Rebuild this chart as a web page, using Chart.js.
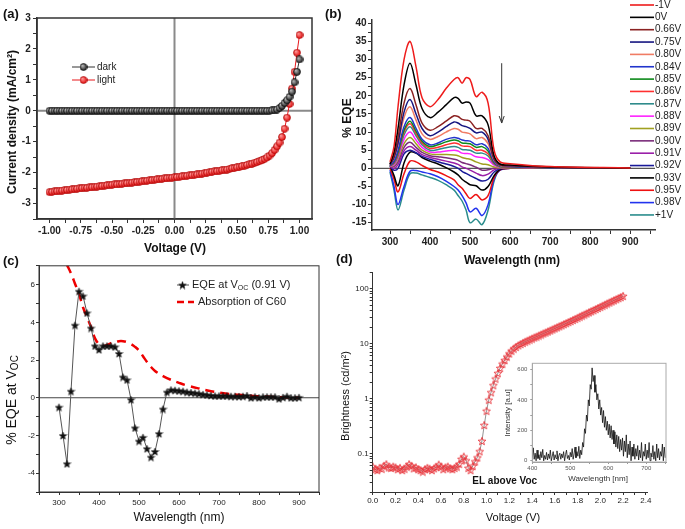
<!DOCTYPE html>
<html>
<head>
<meta charset="utf-8">
<title>J-V, EQE and EL of the C60 device</title>
<script src="https://cdn.jsdelivr.net/npm/chart.js@4.4.1/dist/chart.umd.min.js"></script>
<style>
  html, body { margin: 0; padding: 0; background: #fff; }
  #fig { position: relative; width: 685px; height: 529px; overflow: hidden; }
  #fig canvas { position: absolute; }
  .tag { position: absolute; font: bold 13px "Liberation Sans", Arial, sans-serif; color: #111; }
</style>
</head>
<body>
<div id="fig">
  <canvas id="panelA" width="340" height="260" style="left:0px;top:0px"></canvas>
  <canvas id="panelC" width="340" height="269" style="left:0px;top:260px"></canvas>
  <canvas id="panelD" width="345" height="269" style="left:340px;top:260px"></canvas>
  <canvas id="panelB" width="345" height="272" style="left:340px;top:0px"></canvas>
  <canvas id="insetD" width="175" height="135" style="left:500px;top:355px"></canvas>
  <div class="tag" style="left:3px;top:6px">(a)</div>
  <div class="tag" style="left:325px;top:6px">(b)</div>
  <div class="tag" style="left:3px;top:253px">(c)</div>
  <div class="tag" style="left:336px;top:251px">(d)</div>
</div>
<script>
// ---------- (a) current density vs voltage ----------
var voltageA = [
  -1.00, -0.98, -0.96, -0.94, -0.92, -0.90, -0.88, -0.86, -0.84, -0.82,
  -0.80, -0.78, -0.76, -0.74, -0.72, -0.70, -0.68, -0.66, -0.64, -0.62,
  -0.60, -0.58, -0.56, -0.54, -0.52, -0.50, -0.48, -0.46, -0.44, -0.42,
  -0.40, -0.38, -0.36, -0.34, -0.32, -0.30, -0.28, -0.26, -0.24, -0.22,
  -0.20, -0.18, -0.16, -0.14, -0.12, -0.10, -0.08, -0.06, -0.04, -0.02,
  0.00, 0.02, 0.04, 0.06, 0.08, 0.10, 0.12, 0.14, 0.16, 0.18,
  0.20, 0.22, 0.24, 0.26, 0.28, 0.30, 0.32, 0.34, 0.36, 0.38,
  0.40, 0.42, 0.44, 0.46, 0.48, 0.50, 0.52, 0.54, 0.56, 0.58,
  0.60, 0.62, 0.64, 0.66, 0.68, 0.70, 0.72, 0.74, 0.76, 0.78,
  0.80, 0.82, 0.84, 0.86, 0.88, 0.90, 0.92, 0.94, 0.96, 0.98,
  1.00
];
var darkJ = [
  0, 0, 0, 0, 0, 0, 0, 0, 0, 0,
  0, 0, 0, 0, 0, 0, 0, 0, 0, 0,
  0, 0, 0, 0, 0, 0, 0, 0, 0, 0,
  0, 0, 0, 0, 0, 0, 0, 0, 0, 0,
  0, 0, 0, 0, 0, 0, 0, 0, 0, 0,
  0, 0, 0, 0, 0, 0, 0, 0, 0, 0,
  0, 0, 0, 0, 0, 0, 0, 0, 0, 0,
  0, 0, 0, 0, 0, 0, 0, 0, 0, 0,
  0, 0, 0, 0, 0, 0, 0, 0, 0, 0.01,
  0.02, 0.04, 0.09, 0.16, 0.25, 0.34, 0.45, 0.62, 0.92, 1.26,
  1.66
];
var lightJ = [
  -2.63, -2.62, -2.61, -2.60, -2.59, -2.58, -2.57, -2.56, -2.55, -2.54,
  -2.53, -2.52, -2.51, -2.50, -2.49, -2.49, -2.48, -2.47, -2.46, -2.45,
  -2.44, -2.43, -2.42, -2.41, -2.40, -2.39, -2.38, -2.38, -2.37, -2.36,
  -2.35, -2.34, -2.33, -2.32, -2.31, -2.30, -2.29, -2.28, -2.27, -2.26,
  -2.25, -2.24, -2.23, -2.22, -2.21, -2.20, -2.19, -2.18, -2.17, -2.16,
  -2.15, -2.14, -2.13, -2.12, -2.11, -2.10, -2.09, -2.08, -2.07, -2.06,
  -2.05, -2.03, -2.02, -2.00, -1.99, -1.97, -1.96, -1.95, -1.94, -1.92,
  -1.91, -1.90, -1.88, -1.86, -1.85, -1.83, -1.81, -1.79, -1.77, -1.75,
  -1.73, -1.71, -1.68, -1.66, -1.63, -1.60, -1.56, -1.51, -1.45, -1.37,
  -1.27, -1.15, -1.03, -0.85, -0.58, -0.22, 0.22, 0.72, 1.26, 1.88,
  2.45
];
var aVoltTicks = [-1.00, -0.75, -0.50, -0.25, 0.00, 0.25, 0.50, 0.75, 1.00];
var aCurrentTicks = [-3, -2, -1, 0, 1, 2, 3];

// ---------- (b) EQE under bias ----------
var wavelengthB = [300, 310, 320, 335, 350, 365, 380, 400, 420, 440, 460, 470, 480, 490, 500, 515, 530, 545, 560, 575, 600, 700, 900];
var biasLabels = ['-1V', '0V', '0.66V', '0.75V', '0.80V', '0.84V', '0.85V', '0.86V', '0.87V', '0.88V', '0.89V', '0.90V', '0.91V', '0.92V', '0.93V', '0.95V', '0.98V', '+1V'];
var eqeM1V  = [1.8, 6, 17, 30, 35, 28, 19.5, 17, 19, 22, 24.5, 25, 23.5, 25, 24.5, 19.8, 21, 18, 5, 1.8, 1.3, 0.5, 0.1];
var eqe0V   = [1.2, 4.5, 11, 23, 29, 23, 16.5, 14, 15.5, 17.5, 19.5, 19.3, 18, 18.3, 18, 14.5, 14.5, 12, 3.5, 1.2, 0.9, 0.4, 0.1];
var eqe066V = [1.2, 3.5, 8.5, 18, 22, 17.5, 12.5, 10.5, 11.5, 13, 14.5, 14.3, 13.5, 13.3, 13, 11, 11, 9, 2.8, 1, 0.8, 0.3, 0.1];
var eqe075V = [1, 3, 7, 15.5, 19, 15, 11, 9, 10, 11.5, 12.8, 12.5, 11.8, 11.5, 11, 9.8, 10, 8, 2.5, 0.9, 0.7, 0.3, 0.1];
var eqe080V = [1, 2.8, 6.5, 14, 17, 13.3, 9.5, 8, 8.8, 10, 11, 10.8, 10, 9.8, 9.5, 8.2, 8.5, 6.8, 2.2, 0.8, 0.7, 0.3, 0.1];
var eqe084V = [0.8, 2, 5, 11.5, 14, 11, 8, 6.5, 7, 8, 8.5, 8.3, 7.8, 7.6, 7.5, 6.5, 6.8, 5.5, 1.8, 0.7, 0.5, 0.2, 0.1];
var eqe085V = [0.8, 1.8, 4.5, 10.5, 13, 10.2, 7.5, 6, 6.5, 7.3, 7.8, 7.6, 7, 6.9, 6.8, 5.8, 6, 4.8, 1.6, 0.6, 0.5, 0.2, 0.1];
var eqe086V = [0.7, 1.5, 4, 10, 12.3, 9.6, 7, 5.5, 5.8, 6.5, 7, 6.8, 6.2, 6.1, 6, 5, 5, 4, 1.4, 0.5, 0.4, 0.2, 0.1];
var eqe087V = [0.7, 1.3, 3.5, 9.2, 11.5, 9, 6.5, 5, 5.2, 5.7, 6, 5.8, 5.2, 5.1, 5, 4.2, 4.2, 3.4, 1.2, 0.4, 0.4, 0.2, 0.1];
var eqe088V = [0.6, 1, 3, 8, 10, 7.8, 5.8, 4.5, 4.5, 4.8, 5, 4.8, 4.2, 4.1, 4, 3.2, 3, 2.4, 0.9, 0.3, 0.3, 0.2, 0.1];
var eqe089V = [0.6, 0.8, 2.5, 6.8, 8.5, 6.8, 5, 4, 3.8, 3.8, 3.7, 3.5, 3, 2.7, 2.5, 1.8, 1.2, 1, 0.4, 0.2, 0.2, 0.1, 0.1];
var eqe090V = [0.5, 0.5, 1.8, 5.8, 7.2, 5.8, 4.4, 3.5, 3.2, 2.9, 2.5, 2.2, 1.6, 1.3, 1, 0.3, -0.5, -0.4, 0, 0.1, 0.1, 0.1, 0];
var eqe091V = [0.5, 0, 1, 4.8, 6, 5, 3.8, 3, 2.5, 2, 1.5, 1.1, 0.4, 0, -0.5, -1.3, -2, -1.6, -0.4, 0, 0.1, 0.1, 0];
var eqe092V = [0.5, -0.5, 0, 4, 5, 4.3, 3.3, 2.5, 1.8, 1.2, 0.5, 0, -0.8, -1.4, -2, -2.8, -3.5, -3, -1, -0.1, 0, 0, 0];
var eqe093V = [0.8, -2, -4.8, 1.5, 4.5, 4.2, 3, 2, 1.2, 0.2, -1, -1.8, -3, -3.8, -4.5, -4.8, -6, -5, -2, -0.3, 0, 0, 0];
var eqe095V = [0, -3, -6.5, -1.5, 2, 1.8, 0.8, -0.3, -1, -2, -3.2, -4.5, -5.5, -7, -8.3, -7.2, -8.7, -7.5, -2.5, -0.4, 0, 0, 0];
var eqe098V = [-0.5, -5, -10, -5, -0.8, -0.6, -1, -1.5, -2.3, -3.5, -5, -6, -7.5, -9.5, -12, -11, -13, -10, -3, -0.5, 0, 0, 0];
var eqeP1V  = [-1, -6, -11.5, -6, -1.5, -1.3, -1.8, -2.5, -3.3, -4.5, -6, -7.5, -9, -11.5, -15, -14, -15.5, -11.5, -3.5, -0.3, 0, 0, 0];
var bWaveTicks = [300, 400, 500, 600, 700, 800, 900];
var bEqeTicks = [-15, -10, -5, 0, 5, 10, 15, 20, 25, 30, 35, 40];

// ---------- (c) EQE at Voc and C60 absorption ----------
var wavelengthC = [
  300, 310, 320, 330, 340, 350, 360, 370, 380, 390,
  400, 410, 420, 430, 440, 450, 460, 470, 480, 490,
  500, 510, 520, 530, 540, 550, 560, 570, 580, 590,
  600, 610, 620, 630, 640, 650, 660, 670, 680, 690,
  700, 710, 720, 730, 740, 750, 760, 770, 780, 790,
  800, 810, 820, 830, 840, 850, 860, 870, 880, 890,
  900
];
var eqeAtVoc = [
  -0.5, -2.0, -3.5, 0.35, 3.85, 5.65, 5.4, 4.5, 3.7, 2.75,
  2.55, 2.75, 2.75, 2.75, 2.7, 2.35, 1.1, 0.95, -0.1, -1.6,
  -2.3, -2.1, -2.7, -3.15, -2.85, -1.9, -0.6, 0.3, 0.42, 0.4,
  0.37, 0.35, 0.3, 0.28, 0.25, 0.22, 0.18, 0.15, 0.12, 0.1,
  0.1, 0.1, 0.1, 0.08, 0.08, 0.07, 0.08, 0.12, 0.0, 0.05,
  0.0, 0.05, 0.05, 0.05, 0.05, -0.05, 0.02, 0.08, 0.0, 0.0,
  0.02
];
var absWavelength = [320, 330, 340, 350, 360, 370, 380, 390, 400, 410, 420, 430, 440, 450, 460, 470, 480, 490, 500, 510, 520, 530, 540, 550, 560, 580, 600, 620, 650, 680, 700, 720, 750, 780, 800, 850, 900];
var absC60 = [7.05, 6.6, 6.05, 5.5, 4.8, 4.28, 3.75, 3.15, 2.85, 2.75, 2.8, 2.9, 2.95, 3.0, 3.0, 2.95, 2.85, 2.7, 2.5, 2.2, 1.9, 1.63, 1.42, 1.28, 1.15, 0.95, 0.79, 0.65, 0.49, 0.35, 0.27, 0.21, 0.16, 0.1, 0.08, 0.03, 0.0];
var cWaveTicks = [300, 400, 500, 600, 700, 800, 900];
var cEqeTicks = [-4, -2, 0, 2, 4, 6];

// ---------- (d) brightness vs voltage ----------
var voltageD = [
  0.00, 0.02, 0.04, 0.06, 0.08, 0.10, 0.12, 0.14, 0.16, 0.18,
  0.20, 0.22, 0.24, 0.26, 0.28, 0.30, 0.32, 0.34, 0.36, 0.38,
  0.40, 0.42, 0.44, 0.46, 0.48, 0.50, 0.52, 0.54, 0.56, 0.58,
  0.60, 0.62, 0.64, 0.66, 0.68, 0.70, 0.72, 0.74, 0.76, 0.78,
  0.80, 0.82, 0.84, 0.86, 0.88, 0.90, 0.92, 0.94, 0.96, 0.98,
  1.00, 1.02, 1.04, 1.06, 1.08, 1.10, 1.12, 1.14, 1.16, 1.18,
  1.20, 1.22, 1.24, 1.26, 1.28, 1.30, 1.32, 1.34, 1.36, 1.38,
  1.40, 1.42, 1.44, 1.46, 1.48, 1.50, 1.52, 1.54, 1.56, 1.58,
  1.60, 1.62, 1.64, 1.66, 1.68, 1.70, 1.72, 1.74, 1.76, 1.78,
  1.80, 1.82, 1.84, 1.86, 1.88, 1.90, 1.92, 1.94, 1.96, 1.98,
  2.00, 2.02, 2.04, 2.06, 2.08, 2.10, 2.12, 2.14, 2.16, 2.18,
  2.20
];
var brightness = [
  0.058, 0.052, 0.050, 0.055, 0.053, 0.060, 0.064, 0.056, 0.055, 0.058,
  0.056, 0.052, 0.055, 0.050, 0.053, 0.058, 0.064, 0.060, 0.054, 0.056,
  0.052, 0.050, 0.047, 0.052, 0.055, 0.053, 0.050, 0.054, 0.057, 0.063,
  0.058, 0.052, 0.056, 0.058, 0.054, 0.052, 0.055, 0.058, 0.065, 0.080,
  0.088, 0.075, 0.055, 0.050, 0.060, 0.072, 0.085, 0.110, 0.170, 0.330,
  0.60, 0.95, 1.30, 1.75, 2.30, 2.90, 3.60, 4.30, 5.00, 5.80,
  6.6, 7.4, 8.1, 8.7, 9.3, 9.8, 10.3, 10.8, 11.3, 11.8,
  12.3, 12.9, 13.4, 14.0, 14.6, 15.3, 15.9, 16.6, 17.3, 18.1,
  18.9, 19.7, 20.6, 21.5, 22.5, 23.5, 24.6, 25.7, 26.9, 28.1,
  29.4, 30.8, 32.2, 33.7, 35.3, 37.0, 38.7, 40.5, 42.4, 44.4,
  46.5, 48.7, 51.0, 53.4, 55.9, 58.5, 61.2, 64.0, 67.0, 70.0,
  73.5
];
var dVoltTicks = [0, 0.2, 0.4, 0.6, 0.8, 1.0, 1.2, 1.4, 1.6, 1.8, 2.0, 2.2, 2.4];
var dBrightTicks = [0.1, 1, 10, 100];
var dBrightMinor = [0.02, 0.03, 0.04, 0.05, 0.06, 0.07, 0.08, 0.09, 0.2, 0.3, 0.4, 0.5, 0.6, 0.7, 0.8, 0.9,
  2, 3, 4, 5, 6, 7, 8, 9, 20, 30, 40, 50, 60, 70, 80, 90, 200];

// ---------- (d) inset: EL spectrum ----------
var insetWavelength = [
  400, 402.5, 405, 407.5, 410, 412.5, 415, 417.5, 420, 422.5, 425, 427.5,
  430, 432.5, 435, 437.5, 440, 442.5, 445, 447.5, 450, 452.5, 455, 457.5,
  460, 462.5, 465, 467.5, 470, 472.5, 475, 477.5, 480, 482.5, 485, 487.5,
  490, 492.5, 495, 497.5, 500, 502.5, 505, 507.5, 510, 512.5, 515, 517.5,
  520, 522.5, 525, 527.5, 530, 532.5, 535, 537.5, 540, 542.5, 545, 547.5,
  550, 552.5, 555, 557.5, 560, 562.5, 565, 567.5, 570, 572.5, 575, 577.5,
  580, 582.5, 585, 587.5, 590, 592.5, 595, 597.5, 600, 602.5, 605, 607.5,
  610, 612.5, 615, 617.5, 620, 622.5, 625, 627.5, 630, 632.5, 635, 637.5,
  640, 642.5, 645, 647.5, 650, 652.5, 655, 657.5, 660, 662.5, 665, 667.5,
  670, 672.5, 675, 677.5, 680, 682.5, 685, 687.5, 690, 692.5, 695, 697.5,
  700, 702.5, 705, 707.5, 710, 712.5, 715, 717.5, 720, 722.5, 725, 727.5,
  730, 732.5, 735, 737.5, 740, 742.5, 745, 747.5, 750
];
var insetIntensity = [
  20, 85, 10, 50, 0, 70, 15, 40, 5, 60, 20, 75,
  0, 35, 10, 55, 5, 45, 15, 70, 0, 30, 60, 5,
  40, 15, 65, 0, 35, 50, 10, 45, 20, 60, 0, 40,
  70, 15, 35, 5, 55, 25, 80, 10, 45, 90, 20, 60,
  30, 95, 15, 70, 40, 120, 90, 210, 180, 300, 260, 400,
  360, 500, 470, 610, 520, 560, 450, 500, 400, 440, 340, 400,
  300, 350, 250, 330, 220, 290, 200, 260, 170, 240, 150, 230,
  140, 200, 110, 190, 90, 170, 80, 160, 60, 140, 70, 150,
  30, 130, 60, 170, 20, 110, 40, 130, 0, 90, 30, 110,
  10, 80, 30, 100, 5, 70, 20, 120, 0, 60, 30, 110,
  10, 70, 20, 120, 0, 50, 25, 100, 10, 60, 0, 110,
  20, 80, 5, 60, 30, 110, 0, 90, 20
];
var insetWaveTicks = [400, 500, 600, 700];
var insetIntTicks = [0, 200, 400, 600];

// ---------- helpers ----------
var FONT = '"Liberation Sans", Arial, Helvetica, sans-serif';
Chart.defaults.font.family = FONT;
Chart.defaults.color = '#222';
Chart.defaults.animation = false;
Chart.defaults.responsive = false;
Chart.defaults.events = [];
Chart.defaults.plugins.legend.display = false;
Chart.defaults.plugins.tooltip.enabled = false;

function mids(arr) {
  var out = [];
  for (var i = 0; i < arr.length - 1; i++) out.push((arr[i] + arr[i + 1]) / 2);
  var step = arr[1] - arr[0];
  out.push(arr[0] - step / 2, arr[arr.length - 1] + step / 2);
  return out;
}

function axis(o) {
  return {
    type: o.type || 'linear',
    position: o.pos,
    min: o.min,
    max: o.max,
    afterFit: function (s) {
      if (s.isHorizontal()) s.height = o.size; else s.width = o.size;
    },
    afterBuildTicks: function (s) {
      var vals = o.major.concat(o.minor || []).filter(function (v) {
        return v >= o.min - 1e-9 && v <= o.max + 1e-9;
      });
      vals.sort(function (a, b) { return a - b; });
      s.ticks = vals.map(function (v) { return { value: v }; });
    },
    ticks: {
      autoSkip: false, maxRotation: 0, minRotation: 0,
      padding: o.pad, color: o.color || '#222', font: o.font,
      callback: function (v) {
        for (var i = 0; i < o.major.length; i++) {
          if (Math.abs(o.major[i] - v) < 1e-9) return o.fmt(v);
        }
        return '';
      }
    },
    grid: { drawOnChartArea: false, drawTicks: true, tickLength: o.tick, color: o.line, lineWidth: o.lw || 1 },
    border: { display: true, color: o.line, width: o.bw || 1 }
  };
}

function drawRich(ctx, parts, x, y, rotate, align) {
  ctx.save();
  ctx.translate(x, y);
  if (rotate) ctx.rotate(-Math.PI / 2);
  ctx.textBaseline = 'middle';
  ctx.textAlign = 'left';
  var total = 0;
  parts.forEach(function (p) { ctx.font = p.font; p.w = ctx.measureText(p.text).width; total += p.w; });
  var cx = align === 'left' ? 0 : -total / 2;
  parts.forEach(function (p) {
    ctx.font = p.font;
    ctx.fillStyle = p.color || '#111';
    ctx.fillText(p.text, cx, p.dy || 0);
    cx += p.w;
  });
  ctx.restore();
}

function framePlugin(color, width) {
  return {
    id: 'frame',
    afterDraw: function (chart) {
      var a = chart.chartArea, ctx = chart.ctx;
      ctx.save();
      ctx.strokeStyle = color;
      ctx.lineWidth = width;
      ctx.strokeRect(a.left, a.top, a.right - a.left, a.bottom - a.top);
      ctx.restore();
    }
  };
}

function zeroPlugin(color, width, vertical) {
  return {
    id: 'zeroLines',
    beforeDatasetsDraw: function (chart) {
      var a = chart.chartArea, ctx = chart.ctx;
      var y0 = chart.scales.y.getPixelForValue(0);
      ctx.save();
      ctx.strokeStyle = color;
      ctx.lineWidth = width;
      ctx.beginPath();
      ctx.moveTo(a.left, y0);
      ctx.lineTo(a.right, y0);
      if (vertical) {
        var x0 = chart.scales.x.getPixelForValue(0);
        ctx.moveTo(x0, a.top);
        ctx.lineTo(x0, a.bottom);
      }
      ctx.stroke();
      ctx.restore();
    }
  };
}

function makeSphere(size, base, light, edge) {
  var c = document.createElement('canvas');
  c.width = size; c.height = size;
  var ctx = c.getContext('2d');
  var r = size / 2;
  var g = ctx.createRadialGradient(r * 0.7, r * 0.65, 0.3, r, r, r);
  g.addColorStop(0, light);
  g.addColorStop(1, base);
  ctx.beginPath();
  ctx.arc(r, r, r - 0.5, 0, Math.PI * 2);
  ctx.fillStyle = g;
  ctx.fill();
  ctx.strokeStyle = edge;
  ctx.lineWidth = 0.6;
  ctx.stroke();
  return c;
}

function makeStar(size, fill, stroke, lw) {
  var c = document.createElement('canvas');
  c.width = size; c.height = size;
  var ctx = c.getContext('2d');
  var R = size / 2 - lw, cx = size / 2, cy = size / 2 + 0.5;
  ctx.beginPath();
  for (var i = 0; i < 10; i++) {
    var rr = i % 2 ? R * 0.42 : R;
    var ang = -Math.PI / 2 + i * Math.PI / 5;
    ctx.lineTo(cx + rr * Math.cos(ang), cy + rr * Math.sin(ang));
  }
  ctx.closePath();
  if (fill) { ctx.fillStyle = fill; ctx.fill(); }
  if (stroke) { ctx.strokeStyle = stroke; ctx.lineWidth = lw; ctx.stroke(); }
  return c;
}

var sphereBlack = makeSphere(8, '#111', '#bbb', '#000');
var sphereRed = makeSphere(8, '#e00000', '#ff9a9a', '#a00000');
var starBlack = makeStar(9, '#111', '#111', 0.5);
var starOpenRed = makeStar(10, null, '#e8333a', 0.9);

// ---------- panel (a) ----------
var legendA = {
  id: 'extrasA',
  afterDraw: function (chart) {
    var ctx = chart.ctx;
    drawRich(ctx, [{ text: 'Voltage (V)', font: 'bold 12px ' + FONT }], 175, 249);
    drawRich(ctx, [{ text: 'Current density (mA/cm²)', font: 'bold 12px ' + FONT }], 13, 122, true);
    chart.data.datasets.forEach(function (ds, i) {
      var y = 67 + i * 13;
      ctx.save();
      ctx.strokeStyle = ds.borderColor;
      ctx.lineWidth = 1;
      ctx.beginPath(); ctx.moveTo(72, y); ctx.lineTo(95, y); ctx.stroke();
      ctx.drawImage(ds.pointStyle, 83.5 - 4, y - 4);
      ctx.restore();
      drawRich(ctx, [{ text: ds.label, font: '10px ' + FONT, color: '#222' }], 97, y, false, 'left');
    });
  }
};

new Chart(document.getElementById('panelA'), {
  type: 'line',
  data: {
    labels: voltageA,
    datasets: [
      { label: 'dark', data: darkJ, borderColor: '#333', borderWidth: 1, pointStyle: sphereBlack, pointRadius: 4 },
      { label: 'light', data: lightJ, borderColor: '#e8161b', borderWidth: 1, pointStyle: sphereRed, pointRadius: 4 }
    ]
  },
  options: {
    layout: { padding: { top: 18, right: 28 } },
    scales: {
      x: axis({ pos: 'bottom', min: -1.1, max: 1.1, size: 41, major: aVoltTicks, minor: mids(aVoltTicks),
        fmt: function (v) { return v.toFixed(2); }, font: { size: 10, weight: 'bold' }, tick: 4, pad: 2.7, line: '#333', bw: 1.5 }),
      y: axis({ pos: 'left', min: -3.5, max: 3, size: 37, major: aCurrentTicks, minor: mids(aCurrentTicks),
        fmt: String, font: { size: 10, weight: 'bold' }, tick: 4, pad: 2.3, line: '#333', bw: 1.5 })
    }
  },
  plugins: [zeroPlugin('#8a8a8a', 2, true), framePlugin('#333', 1.5), legendA]
});

// ---------- panel (b) ----------
var biasSeries = [eqeM1V, eqe0V, eqe066V, eqe075V, eqe080V, eqe084V, eqe085V, eqe086V, eqe087V,
  eqe088V, eqe089V, eqe090V, eqe091V, eqe092V, eqe093V, eqe095V, eqe098V, eqeP1V];
var biasColors = ['#ee1c1c', '#000000', '#8b2222', '#151580', '#f07c64', '#2235cc', '#0d8a1a', '#ff3030', '#2e8b8b',
  '#ff22ff', '#a0a020', '#7b2d7b', '#9a1fa8', '#1a1a99', '#000000', '#ee1111', '#2233ee', '#2a8c8c'];

var extrasB = {
  id: 'extrasB',
  afterDraw: function (chart) {
    var ctx = chart.ctx;
    drawRich(ctx, [{ text: 'Wavelength (nm)', font: 'bold 12px ' + FONT }], 172, 261);
    drawRich(ctx, [{ text: '% EQE', font: 'bold 12px ' + FONT }], 8, 118, true);
    chart.data.datasets.forEach(function (ds, i) {
      var y = 5 + i * 12.35;
      ctx.save();
      ctx.strokeStyle = ds.borderColor;
      ctx.lineWidth = 1.6;
      ctx.beginPath(); ctx.moveTo(290, y); ctx.lineTo(314, y); ctx.stroke();
      ctx.restore();
      drawRich(ctx, [{ text: ds.label, font: '10px ' + FONT, color: '#222' }], 315, y, false, 'left');
    });
    // arrow showing increasing bias
    var xs = chart.scales.x, ys = chart.scales.y;
    var ax = xs.getPixelForValue(579), y1 = ys.getPixelForValue(29), y2 = ys.getPixelForValue(12.5);
    ctx.save();
    ctx.strokeStyle = '#333';
    ctx.lineWidth = 1;
    ctx.beginPath();
    ctx.moveTo(ax, y1); ctx.lineTo(ax, y2);
    ctx.moveTo(ax - 2.5, y2 - 7); ctx.lineTo(ax, y2); ctx.lineTo(ax + 2.5, y2 - 7);
    ctx.stroke();
    ctx.restore();
  }
};

new Chart(document.getElementById('panelB'), {
  type: 'line',
  data: {
    labels: wavelengthB,
    datasets: biasSeries.map(function (s, i) {
      return { label: biasLabels[i], data: s, borderColor: biasColors[i], borderWidth: 1.5, pointRadius: 0, tension: 0.35 };
    })
  },
  options: {
    layout: { padding: { top: 19.7, right: 30 } },
    scales: {
      x: axis({ pos: 'bottom', min: 255, max: 962, size: 42, major: bWaveTicks, minor: mids(bWaveTicks),
        fmt: String, font: { size: 10, weight: 'bold' }, tick: 4, pad: 2.7, line: '#333', bw: 1.5 }),
      y: axis({ pos: 'left', min: -17, max: 41, size: 32, major: bEqeTicks, minor: mids(bEqeTicks),
        fmt: String, font: { size: 10, weight: 'bold' }, tick: 4, pad: 1.5, line: '#333', bw: 1.5 })
    }
  },
  plugins: [zeroPlugin('#555', 1.2, false), extrasB]
});

// ---------- panel (c) ----------
var extrasC = {
  id: 'extrasC',
  afterDraw: function (chart) {
    var ctx = chart.ctx;
    drawRich(ctx, [{ text: 'Wavelength (nm)', font: '12px ' + FONT }], 179, 258);
    drawRich(ctx, [
      { text: '% EQE at V', font: '14px ' + FONT },
      { text: 'OC', font: '10px ' + FONT, dy: 3.5 }
    ], 12, 140, true);
    // legend
    ctx.save();
    ctx.strokeStyle = '#555';
    ctx.lineWidth = 1;
    ctx.beginPath(); ctx.moveTo(177, 25); ctx.lineTo(189, 25); ctx.stroke();
    ctx.drawImage(starBlack, 182.5 - 4.5, 25 - 4.5);
    ctx.strokeStyle = '#e00';
    ctx.lineWidth = 2.5;
    ctx.setLineDash([7, 4]);
    ctx.beginPath(); ctx.moveTo(177, 42); ctx.lineTo(194, 42); ctx.stroke();
    ctx.restore();
    drawRich(ctx, [
      { text: 'EQE at V', font: '11px ' + FONT, color: '#222' },
      { text: 'OC', font: '7px ' + FONT, color: '#222', dy: 3 },
      { text: ' (0.91 V)', font: '11px ' + FONT, color: '#222' }
    ], 192, 25, false, 'left');
    drawRich(ctx, [{ text: 'Absorption of C60', font: '11px ' + FONT, color: '#222' }], 198, 42, false, 'left');
  }
};

new Chart(document.getElementById('panelC'), {
  type: 'line',
  data: {
    datasets: [
      { label: 'EQE at Voc (0.91 V)', data: wavelengthC.map(function (w, i) { return { x: w, y: eqeAtVoc[i] }; }),
        borderColor: '#555', borderWidth: 1, pointStyle: starBlack, pointRadius: 4 },
      { label: 'Absorption of C60', data: absWavelength.map(function (w, i) { return { x: w, y: absC60[i] }; }),
        borderColor: '#e00', borderWidth: 2.5, borderDash: [9, 6], pointRadius: 0, tension: 0.4 }
    ]
  },
  options: {
    layout: { padding: { top: 5, right: 21 } },
    scales: {
      x: axis({ pos: 'bottom', min: 250, max: 950, size: 37, major: cWaveTicks, minor: mids(cWaveTicks),
        fmt: String, font: { size: 8 }, tick: 3, pad: 2.7, line: '#333', bw: 1 }),
      y: axis({ pos: 'left', min: -5, max: 7, size: 39, major: cEqeTicks, minor: mids(cEqeTicks),
        fmt: String, font: { size: 8 }, tick: 3, pad: 1, line: '#333', bw: 1 })
    }
  },
  plugins: [zeroPlugin('#444', 1, false), framePlugin('#333', 1), extrasC]
});

// ---------- panel (d) ----------
var extrasD = {
  id: 'extrasD',
  afterDraw: function (chart) {
    var ctx = chart.ctx;
    drawRich(ctx, [{ text: 'Voltage (V)', font: '11px ' + FONT }], 173, 258);
    drawRich(ctx, [{ text: 'Brightness (cd/m²)', font: '11px ' + FONT }], 6, 136, true);
    var xs = chart.scales.x, ys = chart.scales.y;
    drawRich(ctx, [{ text: 'EL above Voc', font: 'bold 10px ' + FONT, color: '#111' }],
      xs.getPixelForValue(1.16), ys.getPixelForValue(0.032));
  }
};

new Chart(document.getElementById('panelD'), {
  type: 'line',
  data: {
    labels: voltageD,
    datasets: [
      { label: 'brightness', data: brightness, borderColor: '#777', borderWidth: 0.8, pointStyle: starOpenRed, pointRadius: 4 }
    ]
  },
  options: {
    layout: { padding: { top: 12, right: 38 } },
    scales: {
      x: axis({ pos: 'bottom', min: 0, max: 2.41, size: 37, major: dVoltTicks, minor: mids(dVoltTicks),
        fmt: function (v) { return v.toFixed(1); }, font: { size: 8 }, tick: 3, pad: 1, line: '#333', bw: 1 }),
      y: axis({ type: 'logarithmic', pos: 'left', min: 0.02, max: 200, size: 32.7, major: dBrightTicks, minor: dBrightMinor,
        fmt: String, font: { size: 8 }, tick: 3, pad: 1, line: '#333', bw: 1 })
    }
  },
  plugins: [extrasD]
});

// ---------- inset ----------
var extrasInset = {
  id: 'extrasInset',
  afterDraw: function (chart) {
    var ctx = chart.ctx;
    drawRich(ctx, [{ text: 'Wavelength [nm]', font: '8px ' + FONT, color: '#333' }], 98, 124);
    drawRich(ctx, [{ text: 'Intensity [a.u]', font: '8px ' + FONT, color: '#333' }], 8, 58, true);
  }
};

new Chart(document.getElementById('insetD'), {
  type: 'line',
  data: {
    labels: insetWavelength,
    datasets: [
      { label: 'EL', data: insetIntensity, borderColor: '#111', borderWidth: 0.8, pointRadius: 0 }
    ]
  },
  options: {
    layout: { padding: { top: 8.3, right: 9 } },
    scales: {
      x: axis({ pos: 'bottom', min: 400, max: 752, size: 28, major: insetWaveTicks, minor: mids(insetWaveTicks),
        fmt: String, font: { size: 6 }, color: '#555', tick: 2, pad: 0.5, line: '#999', bw: 1 }),
      y: axis({ pos: 'left', min: -8, max: 640, size: 32.3, major: insetIntTicks, minor: mids(insetIntTicks),
        fmt: String, font: { size: 6 }, color: '#555', tick: 2, pad: 3, line: '#999', bw: 1 })
    }
  },
  plugins: [framePlugin('#aaa', 1), extrasInset]
});
</script>
</body>
</html>
